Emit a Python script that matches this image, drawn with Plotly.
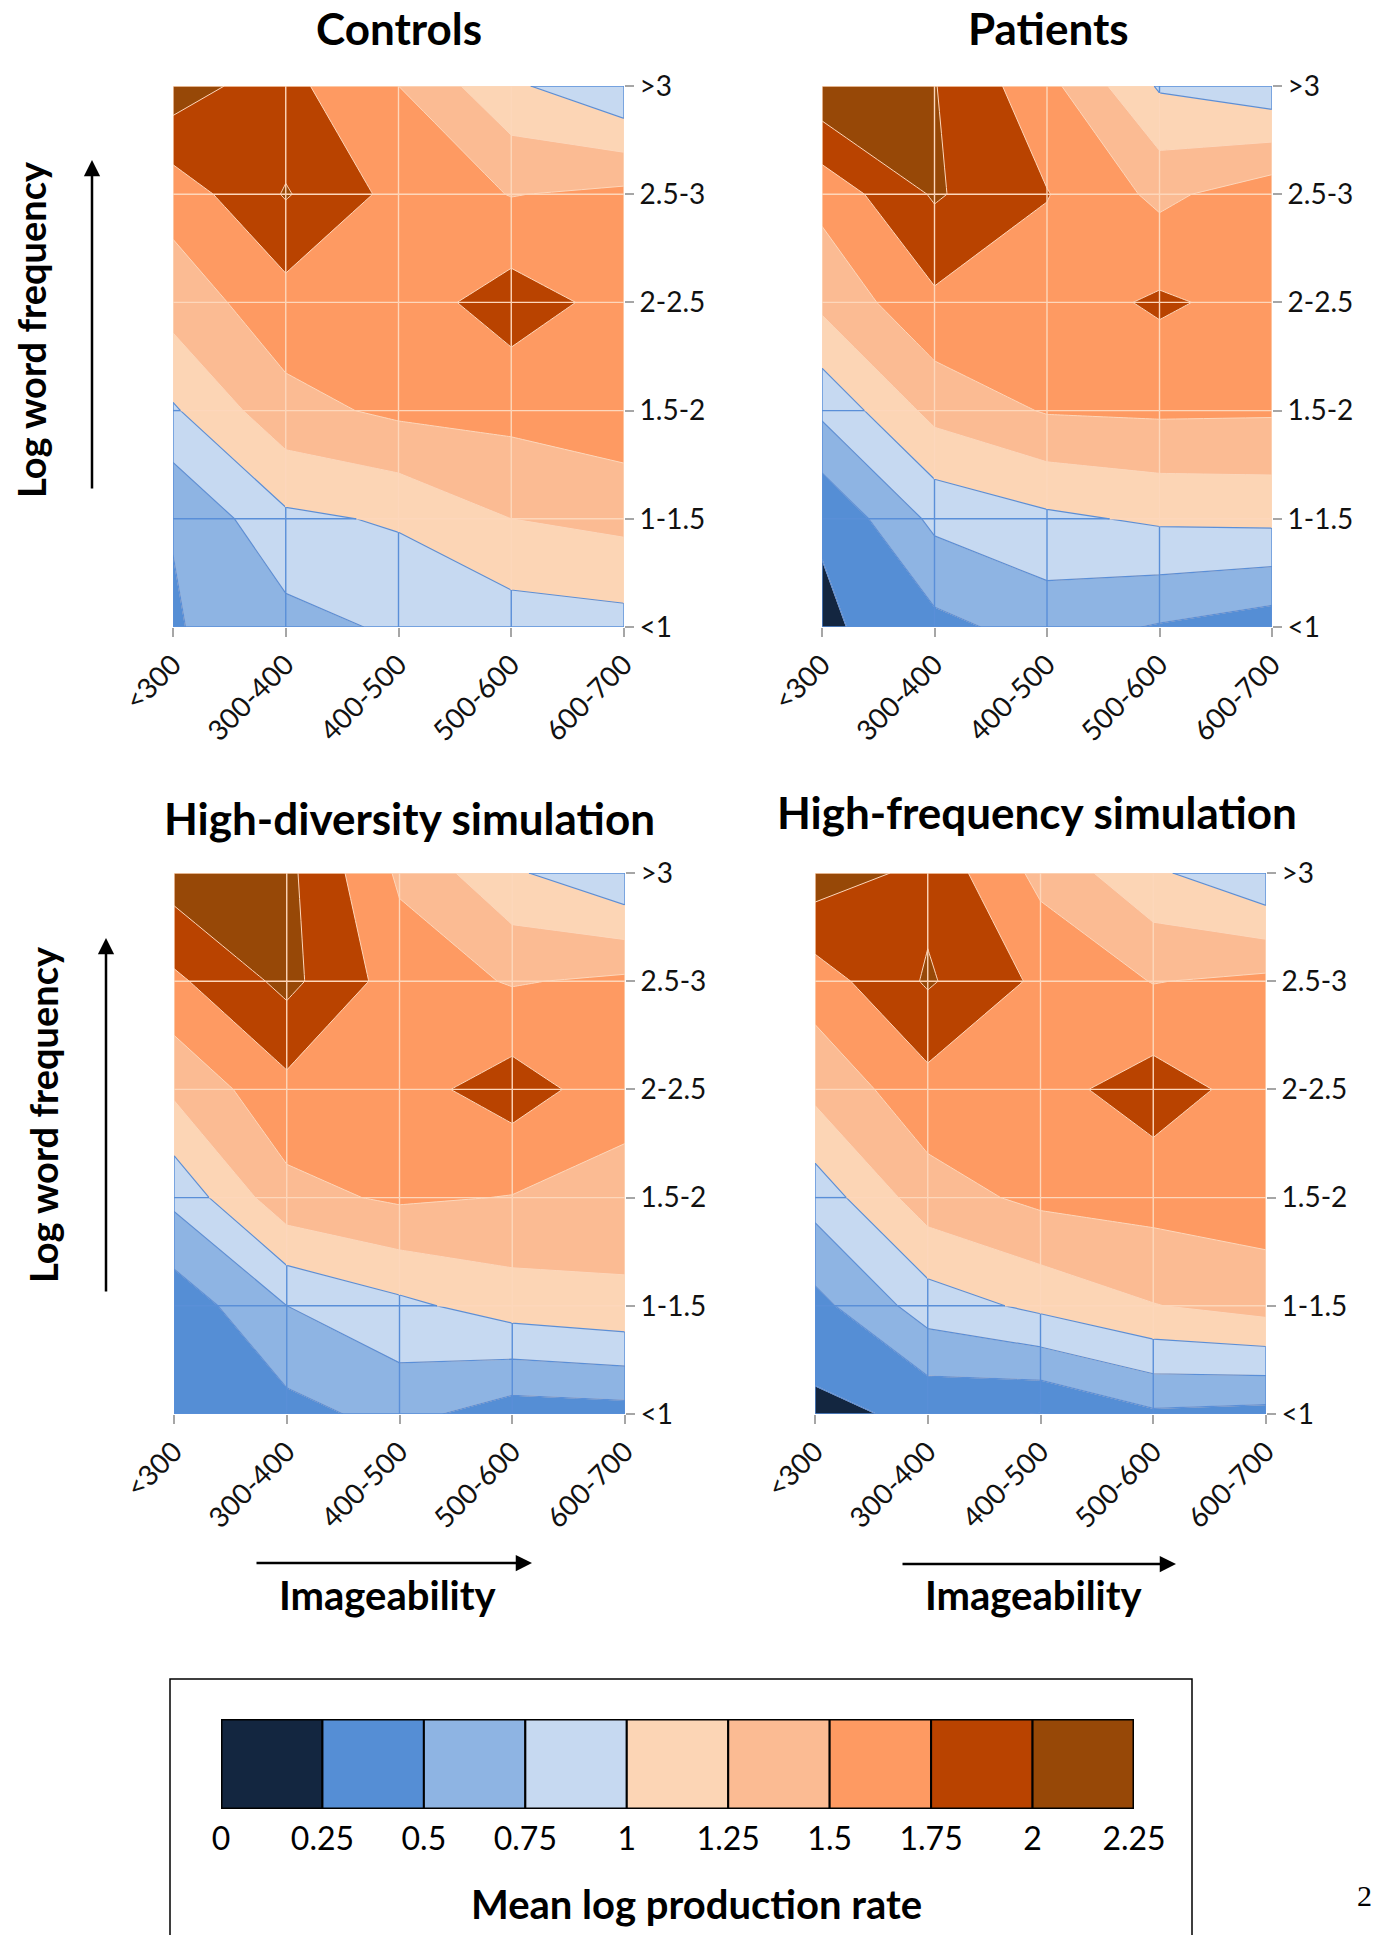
import plotly.graph_objects as go

# ---------------- data ----------------
imageability = ["<300", "300-400", "400-500", "500-600", "600-700"]
frequency = ["<1", "1-1.5", "1.5-2", "2-2.5", "2.5-3", ">3"]

# rows: frequency bands (<1 ... >3), columns: imageability bands
controls = [
    [0.48, 0.66, 0.79, 0.87, 0.91],
    [0.51, 0.95, 1.03, 1.25, 1.32],
    [0.97, 1.42, 1.55, 1.58, 1.67],
    [1.36, 1.65, 1.62, 1.87, 1.66],
    [1.60, 2.02, 1.67, 1.49, 1.56],
    [2.15, 1.82, 1.50, 1.05, 0.76],
]
patients = [
    [0.20, 0.43, 0.60, 0.48, 0.36],
    [0.28, 0.81, 0.95, 1.04, 1.06],
    [0.80, 1.33, 1.52, 1.54, 1.53],
    [1.31, 1.70, 1.62, 1.79, 1.65],
    [1.58, 2.03, 1.76, 1.44, 1.65],
    [2.20, 2.01, 1.58, 0.97, 0.82],
]
high_diversity = [
    [0.30, 0.42, 0.58, 0.37, 0.40],
    [0.34, 0.75, 0.94, 1.12, 1.19],
    [0.81, 1.42, 1.54, 1.49, 1.40],
    [1.30, 1.68, 1.65, 1.87, 1.60],
    [1.70, 2.07, 1.63, 1.48, 1.55],
    [2.13, 2.06, 1.46, 1.04, 0.77],
]
high_frequency = [
    [0.19, 0.30, 0.245, 0.46, 0.42],
    [0.42, 0.87, 1.06, 1.24, 1.35],
    [0.85, 1.39, 1.56, 1.60, 1.64],
    [1.32, 1.66, 1.66, 1.87, 1.64],
    [1.62, 2.03, 1.70, 1.49, 1.56],
    [2.14, 1.93, 1.43, 1.05, 0.76],
]

panel_titles = ["Controls", "Patients", "High-diversity simulation", "High-frequency simulation"]

legend_bounds = [0, 0.25, 0.5, 0.75, 1, 1.25, 1.5, 1.75, 2, 2.25]
legend_labels = ["0", "0.25", "0.5", "0.75", "1", "1.25", "1.5", "1.75", "2", "2.25"]
band_colors = ["#132640", "#558ED5", "#8EB4E3", "#C6D9F1", "#FCD5B5",
               "#FBBB93", "#FE9A62", "#B94300", "#974807"]

# ---------------- layout helpers ----------------
W, H = 1375, 1935
def px(x):
    return x / W
def py(y):
    return 1 - y / H

FONT = "Lato"
BLUE_LINE = "#5A8FD8"
PEACH_LINE = "#FDD7BB"

# plot-area boxes in pixels: (left, right, top, bottom)
boxes = [
    (173, 624, 86, 627),
    (822, 1272, 86, 627),
    (174, 625, 873, 1414),
    (815, 1266, 873, 1414),
]
panels = [controls, patients, high_diversity, high_frequency]

fig = go.Figure()

nlev = len(band_colors) - 1
colorscale = [[k / nlev, c] for k, c in enumerate(band_colors)]
step = legend_bounds[1] - legend_bounds[0]

xs = list(range(len(imageability)))
ys = list(range(len(frequency)))


def grid_traces(Z, xa, ya):
    bx, by, ox, oy = [], [], [], []
    segs = []
    ny, nx = len(Z), len(Z[0])
    for j in range(ny):
        for i in range(nx - 1):
            segs.append(((xs[i], ys[j]), (xs[i + 1], ys[j]), Z[j][i], Z[j][i + 1]))
    for i in range(nx):
        for j in range(ny - 1):
            segs.append(((xs[i], ys[j]), (xs[i], ys[j + 1]), Z[j][i], Z[j + 1][i]))
    for (x0, y0), (x1, y1), va, vb in segs:
        if (va - 1) * (vb - 1) < 0:
            t = (1 - va) / (vb - va)
            xm, ym = x0 + t * (x1 - x0), y0 + t * (y1 - y0)
            pieces = [((x0, y0), (xm, ym), va), ((xm, ym), (x1, y1), vb)]
        else:
            pieces = [((x0, y0), (x1, y1), (va + vb) / 2)]
        for p0, p1, v in pieces:
            if v <= 1:
                bx += [p0[0], p1[0], None]; by += [p0[1], p1[1], None]
            else:
                ox += [p0[0], p1[0], None]; oy += [p0[1], p1[1], None]
    return [
        go.Scatter(x=ox, y=oy, mode="lines", line=dict(color=PEACH_LINE, width=1.4),
                   xaxis=xa, yaxis=ya, hoverinfo="skip", showlegend=False),
        go.Scatter(x=bx, y=by, mode="lines", line=dict(color=BLUE_LINE, width=1.4),
                   xaxis=xa, yaxis=ya, hoverinfo="skip", showlegend=False),
    ]


layout_axes = {}
for k, (Z, box) in enumerate(zip(panels, boxes)):
    n = k + 1
    xa = "x" if n == 1 else f"x{n}"
    ya = "y" if n == 1 else f"y{n}"
    fig.add_trace(go.Contour(
        z=Z, x=xs, y=ys, xaxis=xa, yaxis=ya,
        colorscale=colorscale, showscale=False, hoverinfo="skip",
        contours=dict(start=legend_bounds[1], end=legend_bounds[-2], size=step,
                      coloring="fill", showlines=True),
        line=dict(color=PEACH_LINE, width=1, smoothing=0),
    ))
    fig.add_trace(go.Contour(
        z=Z, x=xs, y=ys, xaxis=xa, yaxis=ya, showscale=False, hoverinfo="skip",
        contours=dict(start=legend_bounds[1], end=legend_bounds[4], size=step,
                      coloring="none", showlines=True),
        line=dict(color=BLUE_LINE, width=1.2, smoothing=0),
    ))
    for tr in grid_traces(Z, xa, ya):
        fig.add_trace(tr)

    l, r, t, b = box
    xname = "xaxis" if n == 1 else f"xaxis{n}"
    yname = "yaxis" if n == 1 else f"yaxis{n}"
    layout_axes[xname] = dict(
        domain=[px(l), px(r)], range=[xs[0], xs[-1]], anchor=ya,
        tickmode="array", tickvals=xs, ticktext=imageability, tickangle=-45,
        ticks="outside", ticklen=9, tickwidth=2, tickcolor="#A6A6A6",
        tickfont=dict(family=FONT, size=28, color="#111111"),
        showgrid=False, zeroline=False, showline=False, fixedrange=True,
        automargin=False,
    )
    layout_axes[yname] = dict(
        domain=[py(b), py(t)], range=[ys[0], ys[-1]], anchor=xa, side="right",
        tickmode="array", tickvals=ys, ticktext=frequency,
        ticks="outside", ticklen=9, tickwidth=2, tickcolor="#A6A6A6",
        tickfont=dict(family=FONT, size=28, color="#111111"),
        showgrid=False, zeroline=False, showline=False, fixedrange=True,
        automargin=False,
    )

# ---------------- legend colour bar ----------------
centers = [(a + b) / 2 for a, b in zip(legend_bounds[:-1], legend_bounds[1:])]
fig.add_trace(go.Bar(
    x=centers, y=[1] * len(centers), width=step, xaxis="x5", yaxis="y5",
    marker=dict(color=band_colors, line=dict(color="black", width=2)),
    hoverinfo="skip", showlegend=False,
))
layout_axes["xaxis5"] = dict(
    domain=[px(221), px(1134)], range=[legend_bounds[0], legend_bounds[-1]], anchor="y5",
    tickmode="array", tickvals=legend_bounds, ticktext=legend_labels,
    ticks="outside", ticklen=2, tickcolor="rgba(0,0,0,0)",
    tickfont=dict(family=FONT, size=32, color="black"),
    showgrid=False, zeroline=False, showline=False, fixedrange=True, automargin=False,
)
layout_axes["yaxis5"] = dict(domain=[py(1809), py(1719)], range=[0, 1], anchor="x5",
                             visible=False, fixedrange=True)

shapes = [
    dict(type="rect", xref="x5", yref="y5", x0=legend_bounds[0], x1=legend_bounds[-1],
         y0=0, y1=1, line=dict(color="black", width=3)),
    dict(type="rect", xref="paper", yref="paper", x0=px(170), x1=px(1192),
         y0=-0.01, y1=py(1679), line=dict(color="black", width=1.5)),
]

# ---------------- annotations ----------------
ann = []
title_pos = [(399, 28), (1048, 28), (410, 818), (1037, 812)]
for txt, (x, y) in zip(panel_titles, title_pos):
    ann.append(dict(text=f"<b>{txt}</b>", x=px(x), y=py(y), xref="paper", yref="paper",
                    xanchor="center", yanchor="middle", showarrow=False,
                    font=dict(family=FONT, size=44, color="black")))
for (x, y) in [(31, 330), (43, 1115)]:
    ann.append(dict(text="<b>Log word frequency</b>", x=px(x), y=py(y), xref="paper",
                    yref="paper", textangle=-90, xanchor="center", yanchor="middle",
                    showarrow=False, font=dict(family=FONT, size=38, color="black")))
for (x, y) in [(388, 1595), (1034, 1595)]:
    ann.append(dict(text="<b>Imageability</b>", x=px(x), y=py(y), xref="paper",
                    yref="paper", xanchor="center", yanchor="middle", showarrow=False,
                    font=dict(family=FONT, size=40, color="black")))
# arrows: (tip x, tip y, tail x, tail y) in page pixels
for (tx, ty, sx, sy) in [(92, 160, 92, 490), (106, 938, 106, 1293),
                         (532, 1563, 255, 1563), (1176, 1564, 901, 1564)]:
    ann.append(dict(text="", x=px(tx), y=py(ty), xref="paper", yref="paper",
                    ax=sx - tx, ay=sy - ty, axref="pixel", ayref="pixel",
                    showarrow=True, arrowhead=2, arrowsize=1.3, arrowwidth=2.5,
                    arrowcolor="black"))
ann.append(dict(text="<b>Mean log production rate</b>", x=px(697), y=py(1904),
                xref="paper", yref="paper", xanchor="center", yanchor="middle",
                showarrow=False, font=dict(family=FONT, size=40, color="black")))
ann.append(dict(text="2", x=px(1364), y=py(1895), xref="paper", yref="paper",
                xanchor="center", yanchor="middle", showarrow=False,
                font=dict(family="Liberation Serif", size=30, color="black")))

fig.update_layout(
    width=W, height=H, margin=dict(l=0, r=0, t=0, b=0, autoexpand=False),
    paper_bgcolor="white", plot_bgcolor="white",
    showlegend=False, annotations=ann, shapes=shapes,
    **layout_axes,
)

fig.write_html("out.html")
